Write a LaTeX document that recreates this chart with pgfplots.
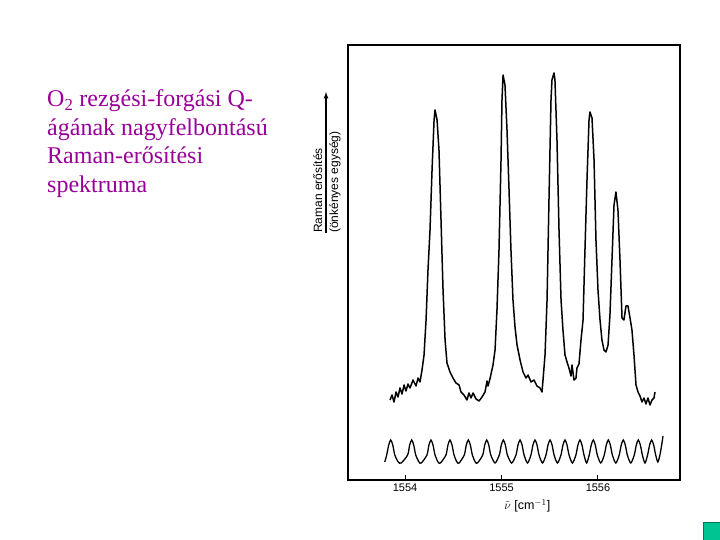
\documentclass[border=0pt]{standalone}
\usepackage{fontspec}
\setmainfont{Liberation Serif}
\setsansfont{Liberation Sans}
\usepackage{pgfplots}
\pgfplotsset{compat=1.18}
\definecolor{slidepurple}{RGB}{153,0,153}
\definecolor{teal1}{RGB}{0,196,146}
\begin{document}
\begin{tikzpicture}
\path[use as bounding box] (0pt,0pt) rectangle (720pt,540pt);
% left slide text
\begin{scope}[every node/.style={anchor=base west, inner sep=0pt, text=slidepurple, font=\fontsize{24}{28}\selectfont}]
\node at (47pt,433pt) {O\textsubscript{2} rezgési-forgási Q-};
\node at (47pt,404.5pt) {ágának nagyfelbontású};
\node at (47pt,376pt) {Raman-erősítési};
\node at (47pt,347.5pt) {spektruma};
\end{scope}
% y label with arrow
\draw[line width=1.2pt,-latex] (326pt,307pt) -- (326pt,448pt);
\node[rotate=90, anchor=south west, inner sep=0pt, font=\sffamily\fontsize{12}{14}\selectfont] at (322.5pt,307pt) {Raman erősítés};
\node[rotate=90, anchor=north west, inner sep=0pt, font=\sffamily\fontsize{12}{14}\selectfont] at (329pt,307pt) {(önkényes egység)};
% teal square
\fill[teal1] (703pt,0pt) rectangle (720pt,18pt);
\draw[teal1!60!black, line width=0.6pt] (703pt,0pt) -- (703pt,18pt) -- (720pt,18pt);
\begin{axis}[
  at={(348pt,60pt)}, anchor=south west,
  scale only axis, width=332pt, height=435pt,
  xmin=1553.409, xmax=1556.850, ymin=0, ymax=435,
  axis line style={line width=1.1pt},
  ytick=\empty,
  xtick={1554,1555,1556},
  xtick pos=bottom, tick align=inside,
  major tick length=5pt,
  tick style={line width=1pt, black},
  /pgf/number format/assume math mode=true,
  xticklabel style={font=\sffamily\fontsize{11}{13}\selectfont, yshift=-4pt, inner sep=0pt},
  /pgf/number format/1000 sep={},
  xlabel={$\tilde{\nu}$ [cm$^{-1}$]},
  xlabel style={at={(axis description cs:0.54,0)}, anchor=north, yshift=-19.5pt, font=\sffamily\fontsize{12.5}{14}\selectfont, inner sep=0pt},
  clip=false,
]
\addplot[black, line width=1.5pt, line join=round] coordinates {
(1553.845,80) (1553.865,85) (1553.886,78) (1553.907,88) (1553.927,83) (1553.948,92)
(1553.969,86) (1553.990,95) (1554.010,89) (1554.031,96) (1554.052,92) (1554.083,100)
(1554.114,94) (1554.135,102) (1554.155,98)
(1554.176,110) (1554.197,125) (1554.218,160) (1554.238,210) (1554.259,250) (1554.280,310)
(1554.301,360) (1554.311,370) (1554.332,360) (1554.352,330) (1554.373,260) (1554.394,190)
(1554.415,140) (1554.435,117) (1554.466,108) (1554.497,102) (1554.528,97) (1554.560,95)
(1554.580,88) (1554.611,85) (1554.642,80) (1554.663,87) (1554.684,82) (1554.705,87)
(1554.736,81) (1554.767,79) (1554.798,83) (1554.829,88) (1554.850,99) (1554.860,94)
(1554.880,101)
(1554.912,115) (1554.933,130) (1554.953,170) (1554.974,230) (1554.995,320) (1555.005,380)
(1555.016,405) (1555.036,395) (1555.057,350) (1555.078,290) (1555.098,230) (1555.119,180)
(1555.140,153) (1555.161,135) (1555.192,120) (1555.223,108) (1555.254,102) (1555.275,105)
(1555.306,98) (1555.337,100) (1555.368,94) (1555.399,92) (1555.420,88) (1555.430,100)
(1555.451,125) (1555.472,180) (1555.492,280) (1555.513,380) (1555.523,400) (1555.544,407)
(1555.554,400) (1555.575,340) (1555.596,250) (1555.617,180) (1555.637,150) (1555.658,125)
(1555.679,118) (1555.699,112) (1555.720,104) (1555.731,115) (1555.751,100) (1555.772,102)
(1555.782,112) (1555.803,116) (1555.824,140) (1555.845,160) (1555.865,230) (1555.886,300)
(1555.907,360) (1555.917,368) (1555.938,362) (1555.959,320) (1555.979,240) (1556.000,190)
(1556.021,160) (1556.041,140) (1556.062,130) (1556.083,128) (1556.104,135) (1556.124,165)
(1556.145,220) (1556.166,275) (1556.186,288) (1556.207,270) (1556.228,220) (1556.249,162)
(1556.269,160) (1556.290,174) (1556.311,174) (1556.332,162) (1556.352,150) (1556.373,125)
(1556.394,95) (1556.415,88) (1556.435,84) (1556.456,78) (1556.477,82) (1556.497,76)
(1556.518,82) (1556.539,75) (1556.560,80) (1556.580,82) (1556.591,88)
};
\addplot[black, line width=1.3pt, smooth, tension=0.45] coordinates {
(1553.790,18)
(1553.810,25) (1553.831,35) (1553.852,40) (1553.873,35) (1553.894,25) (1553.930,18) (1553.960,17)
(1554.027,25) (1554.048,35) (1554.069,40) (1554.090,35) (1554.111,25) (1554.145,18) (1554.169,17)
(1554.227,25) (1554.248,35) (1554.269,40) (1554.290,35) (1554.311,25) (1554.342,18) (1554.367,17)
(1554.424,25) (1554.445,35) (1554.466,40) (1554.487,35) (1554.508,25) (1554.538,18) (1554.561,17)
(1554.614,25) (1554.635,35) (1554.656,40) (1554.677,35) (1554.698,25) (1554.728,18) (1554.751,17)
(1554.805,25) (1554.826,35) (1554.847,40) (1554.868,35) (1554.889,25) (1554.933,17)
(1554.977,25) (1554.998,35) (1555.019,40) (1555.040,35) (1555.061,25) (1555.105,17)
(1555.150,25) (1555.171,35) (1555.192,40) (1555.213,35) (1555.234,25) (1555.270,17)
(1555.305,25) (1555.326,35) (1555.347,40) (1555.368,35) (1555.389,25) (1555.425,17)
(1555.461,25) (1555.482,35) (1555.503,40) (1555.524,35) (1555.545,25) (1555.580,17)
(1555.616,25) (1555.637,35) (1555.658,40) (1555.679,35) (1555.700,25) (1555.735,17)
(1555.771,25) (1555.792,35) (1555.813,40) (1555.834,35) (1555.855,25) (1555.882,17)
(1555.909,25) (1555.930,35) (1555.951,40) (1555.972,35) (1555.993,25) (1556.029,17)
(1556.065,25) (1556.086,35) (1556.107,40) (1556.128,35) (1556.149,25) (1556.185,17)
(1556.220,25) (1556.241,35) (1556.262,40) (1556.283,35) (1556.304,25) (1556.340,17)
(1556.376,25) (1556.397,35) (1556.418,40) (1556.439,35) (1556.460,25) (1556.487,17)
(1556.514,25) (1556.535,35) (1556.556,40) (1556.577,35) (1556.598,25) (1556.620,18)
(1556.642,25) (1556.660,35) (1556.674,44)
};
\end{axis}
\end{tikzpicture}
\end{document}
